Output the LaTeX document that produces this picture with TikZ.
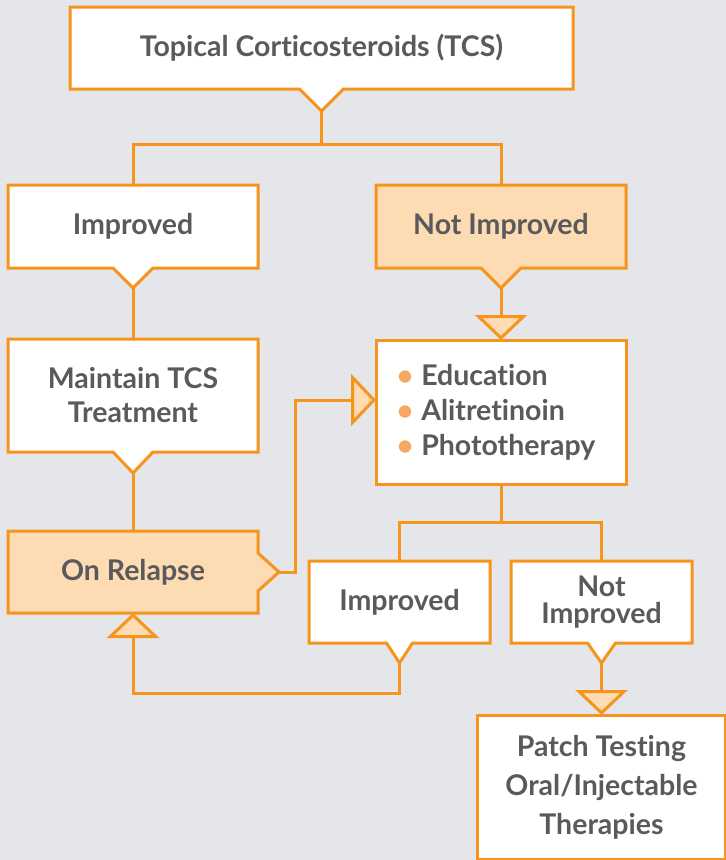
\documentclass[tikz,border=0pt]{standalone}
\usepackage{fontspec}
\setmainfont{Lato}[Ligatures=NoCommon]
\usetikzlibrary{arrows.meta,calc,backgrounds}
\definecolor{orng}{HTML}{F7941D}
\definecolor{lor}{HTML}{FDDBB3}
\definecolor{bulc}{HTML}{F6A860}
\definecolor{txt}{HTML}{5A5A5C}
\definecolor{bgc}{HTML}{E5E6E9}
\newcommand\calloutdn[4]{% name, half width, depth, fill
  \path[outline, fill=#4] (#1.north west) -- (#1.north east) -- (#1.south east)
    -- ($(#1.south)+(#2,0)$) -- ($(#1.south)+(0,#3)$) -- ($(#1.south)+(-#2,0)$)
    -- (#1.south west) -- cycle;
  \coordinate (#1-t) at ($(#1.south)+(0,#3)$);}
\tikzset{
  box/.style={inner sep=0pt, outer sep=0pt, text=txt, align=center,
    font=\fontsize{28.5}{31}\selectfont\bfseries},
  outline/.style={draw=orng, line width=3pt},
  conn/.style={draw=orng, line width=3pt},
  arr/.style={-{Triangle[length=25pt,width=52pt,fill=lor]}},
}
\begin{document}
\begin{tikzpicture}[x=1pt,y=-1pt]
\begin{pgfonlayer}{background}
  \fill[bgc] (0,0) rectangle (726,860);
\end{pgfonlayer}
\useasboundingbox (0,0) rectangle (726,860);

\node[box, minimum width=503pt, minimum height=82pt] (tcs) at (321.5,48) {Topical Corticosteroids (TCS)};
\node[box, minimum width=250pt, minimum height=83pt] (imp1) at (133,226.5) {Improved};
\node[box, minimum width=250pt, minimum height=83pt] (ni1) at (501,226.5) {Not Improved};
\node[box, minimum width=250pt, minimum height=113pt, font=\fontsize{28.5}{34}\selectfont\bfseries] (maint) at (133,395.5) {Maintain TCS\\Treatment};
\node[box, minimum width=250pt, minimum height=82pt] (rel) at (133,572) {On Relapse};
\node[box, minimum width=250pt, minimum height=144pt, align=left, font=\fontsize{28.5}{35}\selectfont\bfseries] (bul) at (501,412)
  {{\color{bulc}\textbullet}\hspace{8pt}Education\\{\color{bulc}\textbullet}\hspace{8pt}Alitretinoin\\{\color{bulc}\textbullet}\hspace{8pt}Phototherapy\hspace*{10pt}};
\node[box, minimum width=181pt, minimum height=82pt] (imp2) at (399.5,602) {Improved};
\node[box, minimum width=181pt, minimum height=82pt, font=\fontsize{28.5}{27}\selectfont\bfseries] (ni2) at (601.5,602) {Not\\Improved};
\node[box, minimum width=248pt, minimum height=144pt, font=\fontsize{28.5}{39}\selectfont\bfseries] (patch) at (601.5,787) {Patch Testing\\Oral/Injectable\\Therapies};

\begin{pgfonlayer}{background}
  \calloutdn{tcs}{22}{22}{white}
  \calloutdn{imp1}{20}{20}{white}
  \calloutdn{ni1}{20}{20}{lor}
  \calloutdn{maint}{20}{21}{white}
  \calloutdn{imp2}{13}{20}{white}
  \calloutdn{ni2}{14}{20}{white}
  \path[outline, fill=lor] (rel.north west) -- (rel.north east) -- ($(rel.east)+(0,-19)$)
    -- ($(rel.east)+(21,0)$) -- ($(rel.east)+(0,19)$) -- (rel.south east) -- (rel.south west) -- cycle;
  \path[outline, fill=white] (bul.north west) rectangle (bul.south east);
  \path[outline, fill=white] (patch.north west) rectangle (patch.south east);
\end{pgfonlayer}
\coordinate (rel-t) at ($(rel.east)+(21,0)$);

\draw[conn] (tcs-t) -- ++(0,33) -| (imp1.north);
\draw[conn] (tcs-t) -- ++(0,33) -| (ni1.north);
\draw[conn] (imp1-t) -- (maint.north);
\draw[conn] (maint-t) -- (rel.north);
\draw[conn,arr] (ni1-t) -- (bul.north);
\draw[conn,arr] (rel-t) -- ++(16,0) |- ($(bul.west)+(0,-12)$);
\draw[conn] (bul.south) -- ++(0,38) -| (imp2.north);
\draw[conn] (bul.south) -- ++(0,38) -| (ni2.north);
\draw[conn,arr] (imp2-t) -- ++(0,30) -| (rel.south);
\draw[conn,arr] (ni2-t) -- (patch.north);
\end{tikzpicture}
\end{document}
